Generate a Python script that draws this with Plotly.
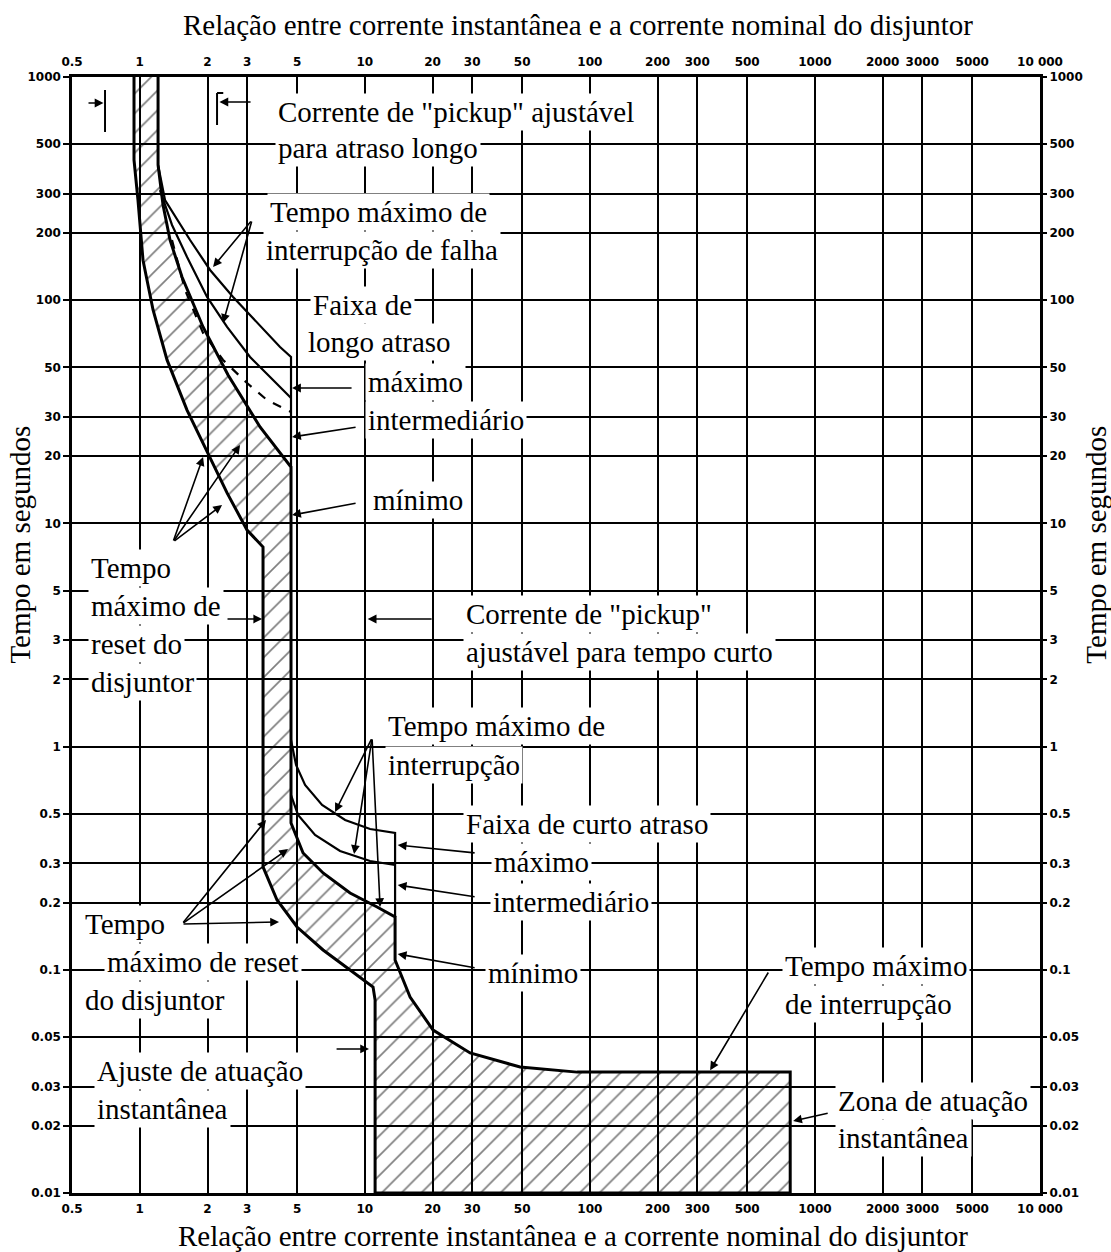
import math
import plotly.graph_objects as go

# ---------------- data ----------------
x_tickvals = [0.5, 1, 2, 3, 5, 10, 20, 30, 50, 100, 200, 300, 500, 1000, 2000, 3000, 5000, 10000]
x_ticktext = ["0.5", "1", "2", "3", "5", "10", "20", "30", "50", "100", "200", "300", "500",
              "1000", "2000", "3000", "5000", "10 000"]
y_tickvals = [0.01, 0.02, 0.03, 0.05, 0.1, 0.2, 0.3, 0.5, 1, 2, 3, 5, 10, 20, 30, 50, 100, 200, 300, 500, 1000]
y_ticktext = ["0.01", "0.02", "0.03", "0.05", "0.1", "0.2", "0.3", "0.5", "1", "2", "3", "5", "10",
              "20", "30", "50", "100", "200", "300", "500", "1000"]

# left (minimum) boundary of the hatched trip band
min_x = [0.943, 0.943, 0.982, 1.034, 1.146, 1.322, 1.622, 1.911, 2.443, 2.997, 3.53, 3.53,
         4.074, 5.0, 6.524, 8.6, 10.88, 11.11, 11.11]
min_y = [1000, 425, 281, 151, 90.4, 54.0, 32.2, 22.9, 13.7, 9.34, 7.84, 0.289,
         0.2055, 0.1555, 0.1227, 0.0998, 0.0837, 0.0732, 0.01]

# right boundary of the hatched band (top to bottom)
band_x = [1.206, 1.206, 1.269, 1.363, 1.541, 1.911, 2.468, 3.423, 4.70, 4.70, 5.317, 6.524,
          8.60, 11.34, 13.63, 13.63, 15.89, 20.11, 29.36, 48.98, 87.77, 776.5, 776.5]
band_y = [1000, 403.4, 267.0, 186.1, 127.0, 75.86, 46.23, 27.03, 17.89, 0.4548, 0.3337, 0.2715,
          0.2209, 0.1912, 0.1724, 0.1106, 0.0755, 0.0537, 0.0424, 0.0367, 0.0348, 0.0348, 0.01]

# long-delay band: maximum, intermediate (solid) and dashed curves
lt_max_x = [1.206, 1.295, 1.673, 2.053, 2.598, 3.32, 4.201, 4.70, 4.70]
lt_max_y = [403.4, 281.1, 186.1, 136.6, 103.4, 79.06, 61.7, 55.67, 17.89]
lt_int_x = [1.23, 1.391, 1.622, 1.991, 2.443, 3.091, 3.793, 4.70]
lt_int_y = [311.6, 217.3, 156.2, 103.4, 75.86, 55.67, 45.28, 36.46]
lt_dash_x = [1.391, 1.589, 1.911, 2.345, 2.997, 3.678, 4.70]
lt_dash_y = [186.1, 111.1, 71.31, 53.97, 42.56, 35.71, 31.56]

# short-delay band: maximum and intermediate curves
st_max_x = [4.70, 4.949, 5.427, 6.458, 8.174, 10.55, 13.63, 13.63]
st_max_y = [1.070, 0.827, 0.673, 0.5476, 0.4691, 0.4272, 0.4102, 0.1724]
st_int_x = [4.70, 5.051, 6.011, 7.762, 10.55, 13.63]
st_int_y = [0.6067, 0.4939, 0.4018, 0.3407, 0.3072, 0.2947]

# pickup markers (plain segments)
seg_x = [[0.701, 0.701], [2.205, 2.205], [2.205, 2.35]]
seg_y = [[874.6, 567.1], [847.8, 609.3], [847.8, 847.8]]

# arrows: tail -> tip
arr_tail_x = [0.583, 3.155, 3.155, 3.155, 8.868, 9.24, 9.24,
              1.405, 1.405, 1.405,
              2.417, 20.11,
              10.77, 10.77, 10.77,
              31.23, 31.23, 31.23,
              1.541, 1.541, 1.541,
              626.2, 7.377, 1157]
arr_tail_y = [764.6, 772.5, 228.8, 228.8, 40.43, 27.03, 12.34,
              8.254, 8.254, 8.254,
              3.73, 3.73,
              1.093, 1.093, 1.093,
              0.3337, 0.2119, 0.1019,
              0.1604, 0.1604, 0.1604,
              0.0988, 0.0442, 0.02283]
arr_tip_x = [0.69, 2.26, 2.117, 2.345, 4.75, 4.75, 4.75,
             1.911, 2.791, 2.321,
             3.50, 10.3,
             7.377, 8.959, 11.69,
             14.0, 14.0, 14.0,
             3.64, 4.56, 4.158,
             342.3, 10.44, 800]
arr_tip_y = [764.6, 772.5, 140.9, 79.06, 40.43, 24.39, 10.90,
             19.84, 22.45, 12.09,
             3.73, 3.73,
             0.5094, 0.3303, 0.1912,
             0.3624, 0.2398, 0.1177,
             0.4691, 0.3478, 0.1637,
             0.0355, 0.0442, 0.02102]

# text labels: (text, x, y) left-anchored
labels = [
    ('Corrente de "pickup" ajustável', 3.992, 697.0),
    ('para atraso longo', 3.992, 480.8),
    ('Tempo máximo de', 3.678, 248.5),
    ('interrupção de falha', 3.53, 167.8),
    ('Faixa de', 5.711, 95.17),
    ('longo atraso', 5.427, 64.98),
    ('máximo', 10.03, 43.0),
    ('intermediário', 10.03, 29.06),
    ('mínimo', 10.55, 12.73),
    ('Tempo', 0.589, 6.314),
    ('máximo de', 0.589, 4.265),
    ('reset do', 0.589, 2.882),
    ('disjuntor', 0.589, 1.948),
    ('Corrente de "pickup"', 27.34, 3.927),
    ('ajustável para tempo curto', 27.34, 2.653),
    ('Tempo máximo de', 12.31, 1.237),
    ('interrupção', 12.31, 0.8272),
    ('Faixa de curto atraso', 27.34, 0.45),
    ('máximo', 36.4, 0.304),
    ('intermediário', 36.04, 0.2013),
    ('mínimo', 34.24, 0.0967),
    ('Tempo', 0.554, 0.1604),
    ('máximo de reset', 0.694, 0.1083),
    ('do disjuntor', 0.554, 0.0732),
    ('Tempo máximo', 715.3, 0.104),
    ('de interrupção', 715.3, 0.0703),
    ('Ajuste de atuação', 0.626, 0.0352),
    ('instantânea', 0.626, 0.0238),
    ('Zona de atuação', 1231, 0.02584),
    ('instantânea', 1231, 0.01764),
]

x_title = "Relação entre corrente instantânea e a corrente nominal do disjuntor"
y_title = "Tempo em segundos"

# ---------------- figure ----------------
SERIF = "Liberation Serif, Times New Roman, serif"
TXT = 29
fig = go.Figure()

poly_x = min_x + band_x[::-1]
poly_y = min_y + band_y[::-1]
fig.add_trace(go.Scatter(
    x=poly_x, y=poly_y, mode="lines", fill="toself",
    fillcolor="rgba(255,255,255,0)",
    fillpattern=dict(shape="/", size=14, solidity=0.12, fgcolor="black", bgcolor="rgba(0,0,0,0)"),
    line=dict(color="black", width=3), hoverinfo="skip"))

for xs, ys, dash in [(lt_max_x, lt_max_y, "solid"), (lt_int_x, lt_int_y, "solid"),
                     (lt_dash_x, lt_dash_y, "dash"), (st_max_x, st_max_y, "solid"),
                     (st_int_x, st_int_y, "solid")]:
    fig.add_trace(go.Scatter(x=xs, y=ys, mode="lines",
                             line=dict(color="black", width=2.2, dash=dash), hoverinfo="skip"))

for xs, ys in zip(seg_x, seg_y):
    fig.add_trace(go.Scatter(x=xs, y=ys, mode="lines", line=dict(color="black", width=2),
                             hoverinfo="skip"))

# dummy trace for the mirrored axes
fig.add_trace(go.Scatter(x=[1], y=[1], xaxis="x2", yaxis="y2", mode="markers",
                         marker=dict(opacity=0), hoverinfo="skip"))

ann = []
for tx, ty, hx, hy in zip(arr_tail_x, arr_tail_y, arr_tip_x, arr_tip_y):
    ann.append(dict(x=math.log10(hx), y=math.log10(hy), ax=math.log10(tx), ay=math.log10(ty),
                    xref="x", yref="y", axref="x", ayref="y", text="", showarrow=True,
                    arrowhead=2, arrowsize=1.1, arrowwidth=1.6, arrowcolor="black"))
for t, lx, ly in labels:
    ann.append(dict(x=math.log10(lx), y=math.log10(ly), xref="x", yref="y", text=t,
                    showarrow=False, xanchor="left", yanchor="middle",
                    font=dict(family=SERIF, size=TXT, color="black"),
                    bgcolor="white", borderpad=2))

title_font = dict(family=SERIF, size=TXT, color="black")
ann.append(dict(x=0.523, y=1.0466, xref="paper", yref="paper", text=x_title, showarrow=False,
                xanchor="center", yanchor="middle", font=title_font))
ann.append(dict(x=0.518, y=-0.0385, xref="paper", yref="paper", text=x_title, showarrow=False,
                xanchor="center", yanchor="middle", font=title_font))
ann.append(dict(x=-0.0537, y=0.581, xref="paper", yref="paper", text=y_title, showarrow=False,
                xanchor="center", yanchor="middle", textangle=-90, font=title_font))
ann.append(dict(x=1.0579, y=0.581, xref="paper", yref="paper", text=y_title, showarrow=False,
                xanchor="center", yanchor="middle", textangle=-90, font=title_font))

tickfont = dict(family="DejaVu Sans, Liberation Sans, sans-serif", size=12, color="black", weight="bold")
xcommon = dict(type="log", range=[math.log10(0.5), 4], tickmode="array", tickvals=x_tickvals,
               ticktext=x_ticktext, tickfont=tickfont, ticks="", zeroline=False)
ycommon = dict(type="log", range=[-2, 3], tickmode="array", tickvals=y_tickvals,
               ticktext=y_ticktext, tickfont=tickfont, ticks="outside", ticklen=6, tickwidth=2,
               tickcolor="black", zeroline=False)

fig.update_layout(
    width=1111, height=1252,
    margin=dict(l=72, r=71, t=77, b=59),
    paper_bgcolor="white", plot_bgcolor="white",
    showlegend=False,
    xaxis=dict(**xcommon, side="bottom", showgrid=True, gridcolor="black", gridwidth=1.8,
               showline=True, linecolor="black", linewidth=2.5, mirror=True, ticklabelstandoff=3),
    xaxis2=dict(**xcommon, side="top", overlaying="x", matches="x", showgrid=False,
                ticklabelstandoff=8),
    yaxis=dict(**ycommon, side="left", showgrid=True, gridcolor="black", gridwidth=1.8,
               showline=True, linecolor="black", linewidth=2.5, mirror=True),
    yaxis2=dict(**ycommon, side="right", overlaying="y", matches="y", showgrid=False),
    annotations=ann,
)

fig.write_html("out.html")
